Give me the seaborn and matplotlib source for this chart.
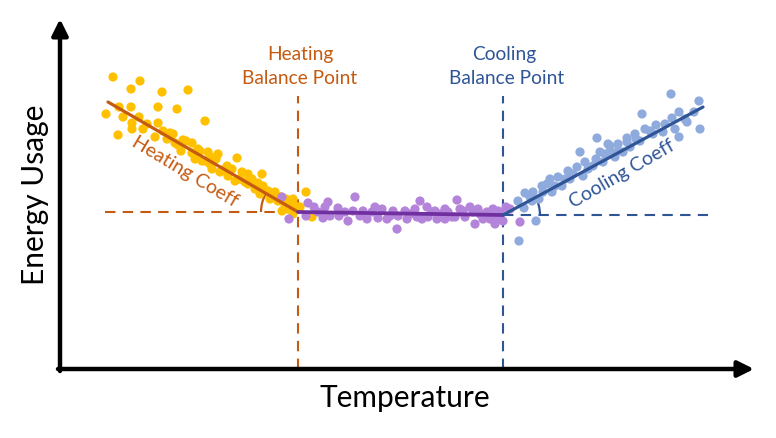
import numpy as np
import pandas as pd
import matplotlib.pyplot as plt
from matplotlib.patches import Arc
import seaborn as sns

#%% DATA (arbitrary units, no ticks on the chart)
heat_temp = [53, 80, 71, 102, 128, 59, 71, 98, 117, 46, 63, 79, 72, 87, 98, 72, 83, 58, 95, 103,
             113, 107, 115, 123, 132, 121, 132, 140, 145, 135, 142, 148, 145, 156, 152, 160, 167,
             177, 168, 175, 182, 185, 192, 202, 195, 203, 208, 215, 210, 218, 225, 233, 228, 235,
             233, 246, 252, 240, 150, 188, 198, 221,
             110, 118, 126, 138, 150, 158, 163, 172, 180, 188, 196, 200, 213, 220, 226, 230, 238, 222]
heat_energy = [292, 288, 280, 277, 279, 262, 262, 262, 260, 255, 252, 252, 246, 245, 246, 240, 240,
               234, 232, 238, 235, 230, 226, 229, 226, 218, 216, 218, 248, 210, 208, 217, 208, 210,
               200, 197, 203, 211, 193, 188, 197, 187, 190, 195, 180, 183, 178, 177, 170, 168, 164,
               170, 160, 163, 155, 177, 152, 162, 212, 185, 186, 172,
               236, 224, 228, 220, 205, 215, 199, 200, 190, 195, 184, 175, 173, 172, 170, 165, 160, 158]

base_temp = [222, 229, 248, 254, 246, 265, 268, 263, 270, 278, 279, 293, 295, 288, 303, 307, 312,
             318, 322, 327, 333, 337, 338, 345, 347, 355, 360, 357, 367, 368, 375, 377, 385, 385,
             388, 397, 395, 403, 405, 413, 415, 418, 423, 427, 433, 437, 435, 441, 443, 450, 460,
             258, 285, 300, 315, 330, 350, 362, 372, 380, 392, 400, 410, 420, 430, 438, 446]
base_energy = [172, 150, 166, 162, 153, 162, 167, 151, 153, 161, 153, 158, 172, 148, 158, 150, 157,
               151, 160, 150, 158, 140, 153, 158, 150, 160, 168, 152, 162, 152, 158, 150, 160, 150,
               157, 169, 152, 158, 152, 157, 145, 160, 150, 157, 160, 152, 145, 155, 148, 160, 147,
               157, 157, 153, 162, 153, 155, 150, 157, 155, 152, 160, 162, 155, 150, 158, 162]

cool_temp = [459, 476, 458, 464, 465, 473, 472, 482, 483, 490, 492, 498, 502, 508, 510, 517, 520,
             523, 525, 533, 540, 543, 537, 548, 558, 567, 575, 582, 585, 596, 603, 611, 612, 619,
             619, 627, 639, 640, 634, 550, 563, 550, 558, 567, 576, 590,
             470, 479, 487, 495, 505, 513, 528, 536, 545, 555, 570, 580, 593, 605, 615, 625]
cool_energy = [128, 148, 168, 161, 176, 177, 168, 183, 177, 190, 177, 192, 183, 198, 190, 202, 217,
               193, 207, 203, 217, 207, 231, 225, 225, 231, 235, 255, 240, 244, 237, 275, 251, 257,
               232, 247, 268, 240, 257, 217, 217, 223, 218, 227, 230, 238,
               172, 170, 185, 183, 190, 195, 200, 210, 215, 212, 222, 228, 235, 245, 240, 250]

# change-point model: fitted segments
fit_temp = [48, 238, 443, 643]
fit_energy = [267, 157, 154, 262]
heat_bp, cool_bp = 238, 443

ORANGE = '#C55A11'
PURPLE = '#7030A0'
BLUE = '#2F5597'

sns.set_theme(style='white')
plt.rcParams['font.family'] = ['Lato', 'DejaVu Sans']

fig = plt.figure(figsize=(7.76, 4.39), dpi=100)
ax = fig.add_axes([0, 0, 1, 1])
ax.set_xlim(-60, 716)
ax.set_ylim(-69, 370)
ax.axis('off')

pts = pd.concat([
    pd.DataFrame({'t': heat_temp, 'e': heat_energy, 'g': 'heat'}),
    pd.DataFrame({'t': base_temp, 'e': base_energy, 'g': 'base'}),
    pd.DataFrame({'t': cool_temp, 'e': cool_energy, 'g': 'cool'}),
])
sns.scatterplot(data=pts, x='t', y='e', hue='g', ax=ax, s=44, linewidth=0, legend=False,
                palette={'heat': '#FFC000', 'base': '#B384DA', 'cool': '#8FAADC'}, zorder=2)

# dashed guides
dash = dict(lw=1.5, ls=(0, (5, 3.5)), zorder=1)
ax.plot([45, heat_bp], [fit_energy[1], fit_energy[1]], color=ORANGE, **dash)
ax.plot([heat_bp, heat_bp], [0, 273], color=ORANGE, **dash)
ax.plot([cool_bp, 648], [fit_energy[2], fit_energy[2]], color=BLUE, **dash)
ax.plot([cool_bp, cool_bp], [0, 273], color=BLUE, **dash)

# fitted lines
sns.lineplot(x=fit_temp[0:2], y=fit_energy[0:2], color=ORANGE, lw=2.3, ax=ax, zorder=3)
sns.lineplot(x=fit_temp[1:3], y=fit_energy[1:3], color=PURPLE, lw=2.7, ax=ax, zorder=3)
sns.lineplot(x=fit_temp[2:4], y=fit_energy[2:4], color=BLUE, lw=2.3, ax=ax, zorder=3)

# angle arcs
ang_h = np.degrees(np.arctan2(fit_energy[0] - fit_energy[1], fit_temp[0] - fit_temp[1]))
ang_c = np.degrees(np.arctan2(fit_energy[3] - fit_energy[2], fit_temp[3] - fit_temp[2]))
ax.add_patch(Arc((heat_bp, fit_energy[1]), 74, 74, theta1=ang_h, theta2=180, color=ORANGE, lw=1.6))
ax.add_patch(Arc((cool_bp, fit_energy[2]), 74, 74, theta1=0, theta2=ang_c, color=BLUE, lw=1.6))

# axes arrows
arrow = dict(arrowstyle='-|>', lw=3.2, color='black', mutation_scale=24, shrinkA=0, shrinkB=0)
ax.annotate('', xy=(0, 350), xytext=(0, -2), arrowprops=arrow)
ax.annotate('', xy=(694, 0), xytext=(-2, 0), arrowprops=arrow)

# labels
ax.text(240, 310, 'Heating', color=ORANGE, fontsize=13.8, ha='center', va='baseline')
ax.text(240, 286, 'Balance Point', color=ORANGE, fontsize=13.8, ha='center', va='baseline')
ax.text(444, 310, 'Cooling', color=BLUE, fontsize=13.8, ha='center', va='baseline')
ax.text(447, 286, 'Balance Point', color=BLUE, fontsize=13.8, ha='center', va='baseline')
ax.text(125, 198, 'Heating Coeff', color=ORANGE, fontsize=14, ha='center', va='center',
        rotation=-31, rotation_mode='anchor')
ax.text(562, 196, 'Cooling Coeff', color=BLUE, fontsize=14, ha='center', va='center',
        rotation=30, rotation_mode='anchor')
ax.text(-25, 175, 'Energy Usage', color='black', fontsize=21.5, ha='center', va='center', rotation=90)
ax.text(345, -37, 'Temperature', color='black', fontsize=21.5, ha='center', va='baseline')

fig.savefig('out.png', dpi=100)
